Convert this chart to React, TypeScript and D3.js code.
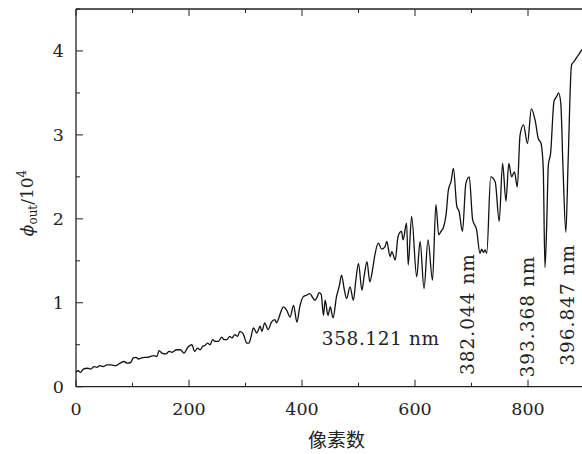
import React from "react";
import * as d3 from "d3";

// pixel index (x) and output flux / 10^4 (y)
const pixelIdx = [
  0, 4, 8, 13, 20, 26, 32, 37, 42, 48, 55, 62, 70, 78, 85, 91, 97, 101, 106, 111, 115, 121, 126, 132, 138, 143,
  147, 152, 159, 165, 170, 178, 185, 191, 198, 205, 210, 215, 220, 224, 228, 233, 237, 242, 246, 252, 258, 262,
  267, 272, 276, 281, 286, 290, 296, 299, 302, 306, 310, 314, 320, 326, 329, 334, 340, 346, 352, 355, 358, 362,
  367, 373, 379, 385, 391, 396, 402, 408, 414, 419, 423, 427, 430, 434, 438, 441, 446, 450, 455, 461, 466, 470,
  475, 479, 485, 491, 495, 500, 506, 510, 515, 520, 525, 529, 535, 541, 547, 550, 556, 559, 565, 570, 576, 579,
  585, 588, 594, 603, 609, 616, 623, 631, 637, 642, 646, 650, 655, 659, 664, 668, 674, 678, 684, 690, 696, 702,
  709, 715, 718, 721, 724, 727, 734, 742, 749, 755, 761, 766, 771, 776, 781, 786, 792, 799, 806, 813, 818, 823,
  827, 830, 833, 836, 840, 846, 851, 854, 858, 862, 867, 871, 877, 882, 886, 890, 895, 900,
];
const phiOut = [
  0.17, 0.19, 0.17, 0.21, 0.22, 0.21, 0.24, 0.23, 0.25, 0.24, 0.26, 0.26, 0.25, 0.28, 0.3, 0.28, 0.29, 0.34, 0.35, 0.33,
  0.34, 0.35, 0.35, 0.36, 0.37, 0.36, 0.43, 0.4, 0.39, 0.42, 0.41, 0.44, 0.44, 0.4, 0.47, 0.5, 0.42, 0.46, 0.44, 0.48,
  0.49, 0.52, 0.5, 0.56, 0.54, 0.54, 0.59, 0.56, 0.56, 0.6, 0.58, 0.62, 0.6, 0.66, 0.63, 0.57, 0.52, 0.52, 0.6, 0.7,
  0.64, 0.72, 0.66, 0.76, 0.68, 0.77, 0.8, 0.76, 0.8, 0.88, 0.95, 0.91, 0.83, 0.97, 0.77, 0.95, 1.07, 1.09, 1.11, 1.06,
  1.03, 1.07, 1.12, 1.1, 0.85, 1.03, 0.85, 0.95, 0.82, 1.07, 1.2, 1.33, 1.15, 1.05, 1.19, 1.03, 1.25, 1.47, 1.15, 1.32,
  1.49, 1.25, 1.4, 1.57, 1.71, 1.64, 1.67, 1.73, 1.55, 1.61, 1.51, 1.79, 1.85, 1.75, 1.95, 1.45, 2.03, 1.31, 1.73,
  1.17, 1.75, 1.27, 2.17, 1.81, 1.85, 1.89, 2.05, 2.34, 2.45, 2.6, 2.15, 2.09, 1.85, 2.42, 2.5, 1.99, 1.87, 1.59, 1.64,
  1.6, 1.63, 1.59, 2.5, 2.44, 1.97, 2.66, 2.21, 2.66, 2.5, 2.56, 2.38, 3.0, 3.12, 2.9, 3.31, 3.16, 2.96, 2.9, 2.6, 1.42,
  1.9, 2.64, 2.78, 3.4, 3.46, 3.5, 3.38, 2.6, 1.84, 2.68, 3.83, 3.88, 3.92, 3.96, 4.01, 4.03,
];
const xTicks = [0, 200, 400, 600, 800];
const xMinor = [100, 300, 500, 700, 900];
const yTicks = [0, 1, 2, 3, 4];
const yMinor = [0.5, 1.5, 2.5, 3.5, 4.5];
const annotations = [
  { label: "358.121 nm", px: 435, val: 0.5, rotate: false },
  { label: "382.044 nm", px: 705, val: 0.14, rotate: true },
  { label: "393.368 nm", px: 811, val: 0.11, rotate: true },
  { label: "396.847 nm", px: 882, val: 0.25, rotate: true },
];

const W = 582;
const H = 454;
const left = 76;
const top = 9;
const bottom = 386.7;

export default function App() {
  const x = d3.scaleLinear().domain([0, 900]).range([left, left + 900 * 0.565]);
  const y = d3.scaleLinear().domain([0, 4.5]).range([bottom, top]);
  const pts: [number, number][] = pixelIdx.map((p, i) => [p, phiOut[i]]);
  const line = d3
    .line<[number, number]>()
    .x((d) => x(d[0]))
    .y((d) => y(d[1]))
    .curve(d3.curveMonotoneX);
  const font = "'DejaVu Serif', serif";
  const right = W + 2;
  return (
    <svg
      width={W}
      height={H}
      style={{ position: "absolute", left: 0, top: 0, background: "#fff" }}
      fontFamily={font}
    >
      <defs>
        <clipPath id="plot">
          <rect x={left} y={top} width={W - left} height={bottom - top} />
        </clipPath>
      </defs>
      <path d={line(pts) || ""} fill="none" stroke="#111" strokeWidth={1.3} clipPath="url(#plot)" />
      {/* axes */}
      <line x1={left} x2={left} y1={top} y2={bottom} stroke="#222" strokeWidth={1.3} />
      <line x1={left} x2={right} y1={bottom} y2={bottom} stroke="#222" strokeWidth={1.3} />
      <line x1={left} x2={right} y1={top} y2={top} stroke="#222" strokeWidth={1.3} />
      {xTicks.map((t) => (
        <g key={"xt" + t}>
          <line x1={x(t)} x2={x(t)} y1={bottom} y2={bottom - 7} stroke="#222" strokeWidth={1} />
          <line x1={x(t)} x2={x(t)} y1={top} y2={top + 7} stroke="#222" strokeWidth={1} />
          <text x={x(t)} y={415} textAnchor="middle" fontSize={17.5} fill="#222">
            {t}
          </text>
        </g>
      ))}
      {xMinor.map((t) => (
        <g key={"xm" + t}>
          <line x1={x(t)} x2={x(t)} y1={bottom} y2={bottom - 4} stroke="#222" strokeWidth={1} />
          <line x1={x(t)} x2={x(t)} y1={top} y2={top + 4} stroke="#222" strokeWidth={1} />
        </g>
      ))}
      {yTicks.map((t) => (
        <g key={"yt" + t}>
          <line x1={left} x2={left + 7} y1={y(t)} y2={y(t)} stroke="#222" strokeWidth={1} />
          <text x={64} y={y(t)} dy="0.36em" textAnchor="end" fontSize={17.5} fill="#222">
            {t}
          </text>
        </g>
      ))}
      {yMinor.map((t) => (
        <line key={"ym" + t} x1={left} x2={left + 4} y1={y(t)} y2={y(t)} stroke="#222" strokeWidth={1} />
      ))}
      {/* axis titles */}
      <text
        transform={`translate(33,203) rotate(-90)`}
        textAnchor="middle"
        fontSize={17}
        fill="#222"
      >
        <tspan fontStyle="italic">ϕ</tspan>
        <tspan fontSize={12} dy={4}>out</tspan>
        <tspan dy={-4}>/10</tspan>
        <tspan fontSize={12} dy={-7}>4</tspan>
      </text>
      <text
        x={336.5}
        y={447}
        textAnchor="middle"
        fontSize={19}
        fill="#222"
        fontFamily="'Noto Sans CJK SC', sans-serif"
      >
        像素数
      </text>
      {annotations.map((a) =>
        a.rotate ? (
          <text
            key={a.label}
            transform={`translate(${x(a.px)},${y(a.val)}) rotate(-90)`}
            fontSize={18.5}
            letterSpacing={1}
            fill="#222"
          >
            {a.label}
          </text>
        ) : (
          <text key={a.label} x={x(a.px)} y={y(a.val)} fontSize={18.5} letterSpacing={0.6} fill="#222">
            {a.label}
          </text>
        )
      )}
    </svg>
  );
}
